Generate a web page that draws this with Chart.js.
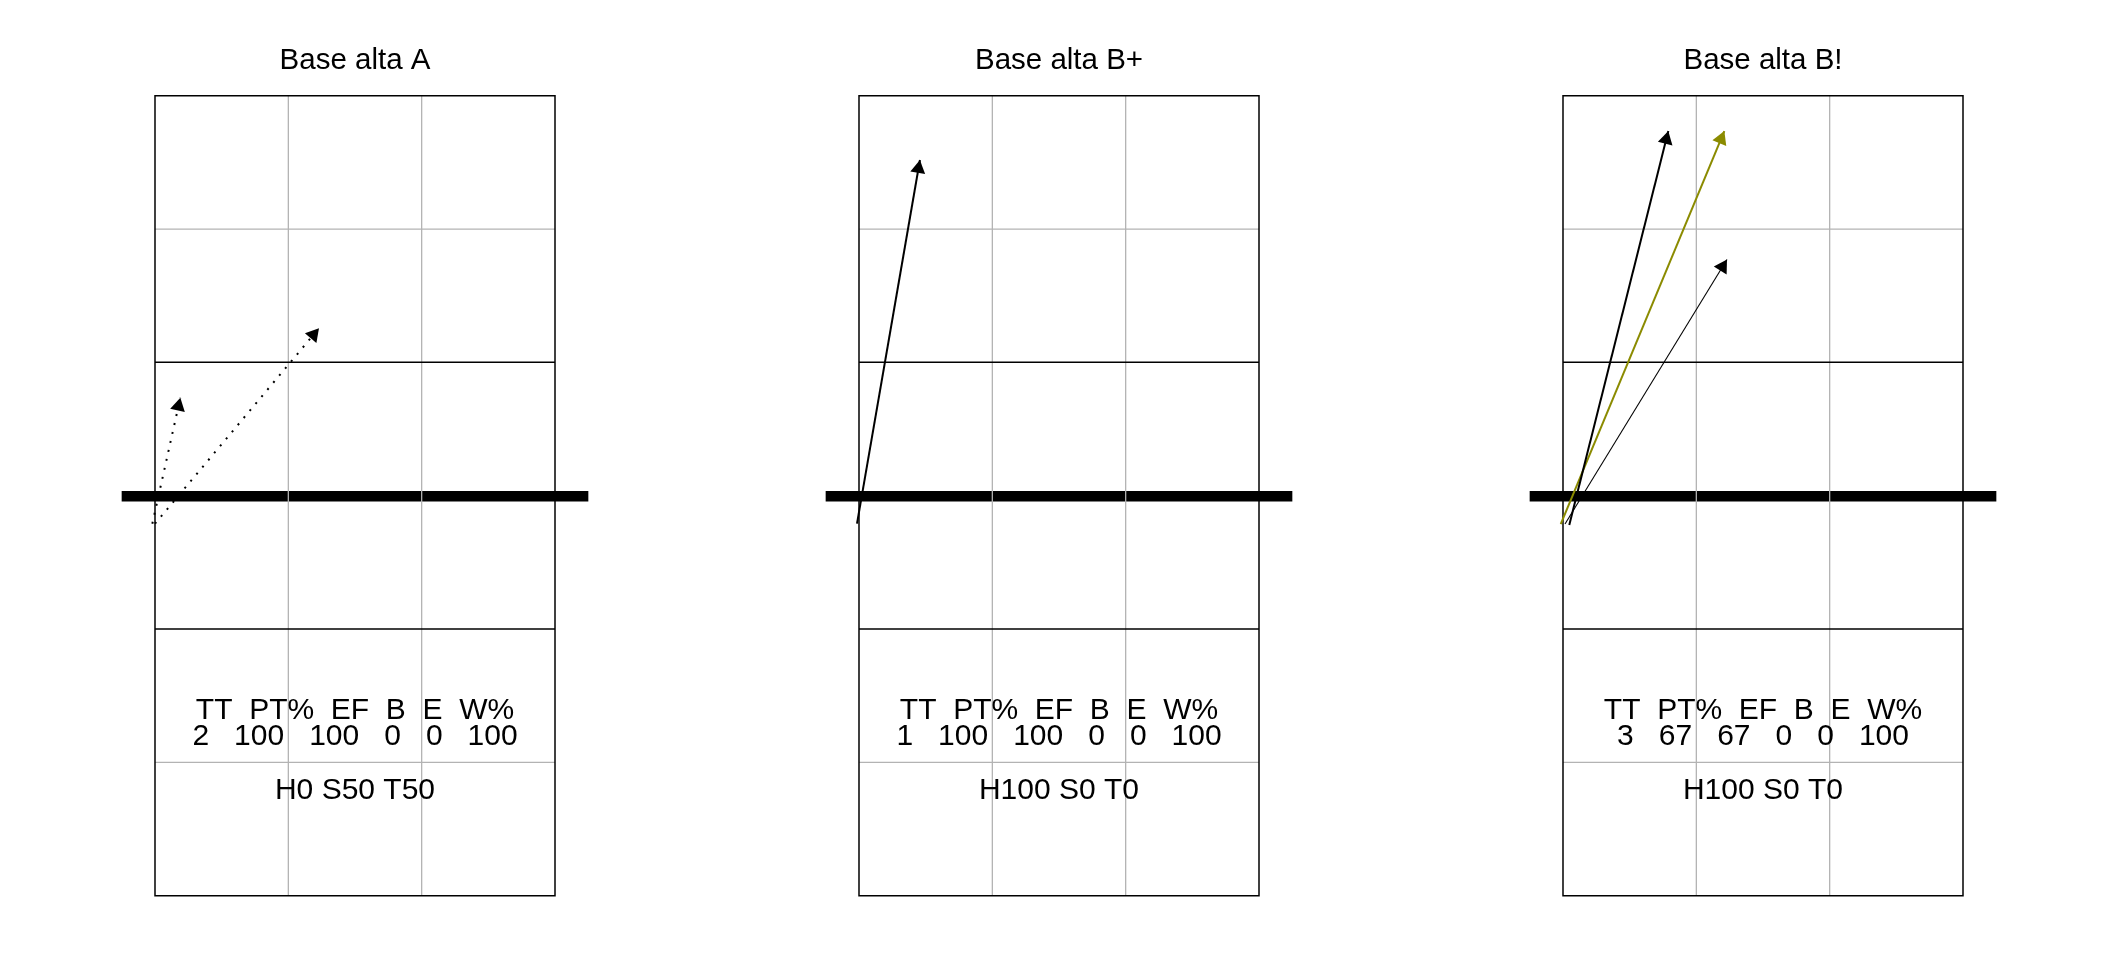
<!DOCTYPE html>
<html>
<head>
<meta charset="utf-8">
<script src="https://cdn.jsdelivr.net/npm/chart.js@4"></script>
<style>
  html, body { margin: 0; padding: 0; background: #ffffff; }
  body { width: 2112px; height: 960px; position: relative; overflow: hidden; }
  .panel { position: absolute; top: 0; width: 704px; height: 960px; }
  canvas { display: block; }
</style>
</head>
<body>
<div class="panel" style="left:0px"><canvas id="c0" width="704" height="960"></canvas></div>
<div class="panel" style="left:704px"><canvas id="c1" width="704" height="960"></canvas></div>
<div class="panel" style="left:1408px"><canvas id="c2" width="704" height="960"></canvas></div>
<script>
// ---------------- data ----------------
const panelTitles = ["Base alta A", "Base alta B+", "Base alta B!"];
const statHeaders = ["TT", "PT%", "EF", "B", "E", "W%"];
const statValues = [
  [2, 100, 100, 0, 0, 100],
  [1, 100, 100, 0, 0, 100],
  [3, 67, 67, 0, 0, 100]
];
const zoneLabels = ["H0 S50 T50", "H100 S0 T0", "H100 S0 T0"];

// attack arrows (court coordinates)
const arrowPanel  = [0, 0, 1, 2, 2, 2];
const arrowStartX = [0.48, 0.50, 0.485, 0.547, 0.483, 0.515];
const arrowStartY = [3.29, 3.29, 3.29, 3.28, 3.286, 3.288];
const arrowEndX   = [0.69, 1.73, 0.957, 1.29, 1.71, 1.73];
const arrowEndY   = [4.235, 4.756, 6.018, 6.235, 6.235, 5.272];
const arrowKind   = ["dotted", "dotted", "solid", "solid", "olive", "thin"];

// court geometry (court coordinates)
const courtX = [0.5, 3.5];
const courtY = [0.5, 6.5];
const greyLinesX = [1.5, 2.5];
const greyLinesY = [1.5, 5.5];
const blackLinesY = [2.5, 4.5];
const netY = 3.496;
const netX = [0.25, 3.75];

// ---------------- styles ----------------
const kindStyle = {
  dotted: { color: "#000000", width: 2,   dash: [2, 7.2] },
  solid:  { color: "#000000", width: 2,   dash: [] },
  olive:  { color: "#8B8B00", width: 2,   dash: [] },
  thin:   { color: "#000000", width: 1.1, dash: [] }
};
const FONT = "'Liberation Sans', Arial, sans-serif";

function seg(x0, y0, x1, y1, color, width, order) {
  return {
    data: [{x: x0, y: y0}, {x: x1, y: y1}],
    showLine: true, borderColor: color, borderWidth: width,
    pointRadius: 0, pointHoverRadius: 0, fill: false,
    borderCapStyle: 'butt', borderJoinStyle: 'miter', order: order
  };
}

const arrowHeads = {
  id: 'arrowHeads',
  afterDatasetsDraw(chart) {
    const ctx = chart.ctx;
    chart.data.datasets.forEach((ds, i) => {
      if (!ds.isArrow) return;
      const meta = chart.getDatasetMeta(i);
      const p0 = meta.data[0], p1 = meta.data[1];
      const ang = Math.atan2(p1.y - p0.y, p1.x - p0.x);
      const L = 15, a = Math.PI / 6;
      ctx.save();
      ctx.beginPath();
      ctx.moveTo(p1.x, p1.y);
      ctx.lineTo(p1.x - L * Math.cos(ang - a), p1.y - L * Math.sin(ang - a));
      ctx.lineTo(p1.x - L * Math.cos(ang + a), p1.y - L * Math.sin(ang + a));
      ctx.closePath();
      ctx.fillStyle = ds.borderColor;
      ctx.fill();
      ctx.restore();
    });
  }
};

const statText = {
  id: 'statText',
  afterDraw(chart, args, opts) {
    const ctx = chart.ctx;
    const xs = chart.scales.x, ys = chart.scales.y;
    const cx = xs.getPixelForValue(2);
    ctx.save();
    ctx.fillStyle = "#000000";
    ctx.font = "30px " + FONT;
    ctx.textAlign = "center";
    ctx.textBaseline = "middle";
    ctx.fillText(statHeaders.join("  "), cx, ys.getPixelForValue(1.885));
    ctx.fillText(statValues[opts.panel].join("   "), cx, ys.getPixelForValue(1.69));
    ctx.fillText(zoneLabels[opts.panel], cx, ys.getPixelForValue(1.29));
    ctx.restore();
  }
};

for (let p = 0; p < 3; p++) {
  const datasets = [];
  // net (bottom layer)
  datasets.push(seg(netX[0], netY, netX[1], netY, "#000000", 10.7, 40));
  // grey grid lines
  greyLinesX.forEach(x => datasets.push(seg(x, courtY[0], x, courtY[1], "#b3b3b3", 1.3, 30)));
  greyLinesY.forEach(y => datasets.push(seg(courtX[0], y, courtX[1], y, "#b3b3b3", 1.3, 30)));
  // black attack lines
  blackLinesY.forEach(y => datasets.push(seg(courtX[0], y, courtX[1], y, "#000000", 1.5, 20)));
  // court outline
  datasets.push({
    data: [{x: courtX[0], y: courtY[0]}, {x: courtX[1], y: courtY[0]}, {x: courtX[1], y: courtY[1]},
           {x: courtX[0], y: courtY[1]}, {x: courtX[0], y: courtY[0]}],
    showLine: true, borderColor: "#000000", borderWidth: 1.5, pointRadius: 0,
    borderJoinStyle: 'miter', borderCapStyle: 'square', fill: false, order: 20
  });
  // arrows
  for (let i = 0; i < arrowPanel.length; i++) {
    if (arrowPanel[i] !== p) continue;
    const st = kindStyle[arrowKind[i]];
    const d = seg(arrowStartX[i], arrowStartY[i], arrowEndX[i], arrowEndY[i], st.color, st.width, 0);
    d.borderDash = st.dash;
    d.isArrow = true;
    datasets.push(d);
  }

  new Chart(document.getElementById('c' + p), {
    type: 'scatter',
    data: { datasets: datasets },
    options: {
      responsive: false,
      devicePixelRatio: 1,
      animation: false,
      events: [],
      layout: { padding: { left: 88.33, right: 82.33, top: 0, bottom: 37.63 } },
      scales: {
        x: { type: 'linear', min: 0, max: 4, display: false },
        y: { type: 'linear', min: 0.3, max: 6.6, display: false }
      },
      plugins: {
        legend: { display: false },
        tooltip: { enabled: false },
        title: {
          display: true,
          text: panelTitles[p],
          color: "#000000",
          font: { family: FONT, size: 29.5, weight: 'normal', lineHeight: 1.2 },
          padding: { top: 43.6, bottom: 3.37 }
        },
        statText: { panel: p }
      }
    },
    plugins: [arrowHeads, statText]
  });
}
</script>
</body>
</html>
